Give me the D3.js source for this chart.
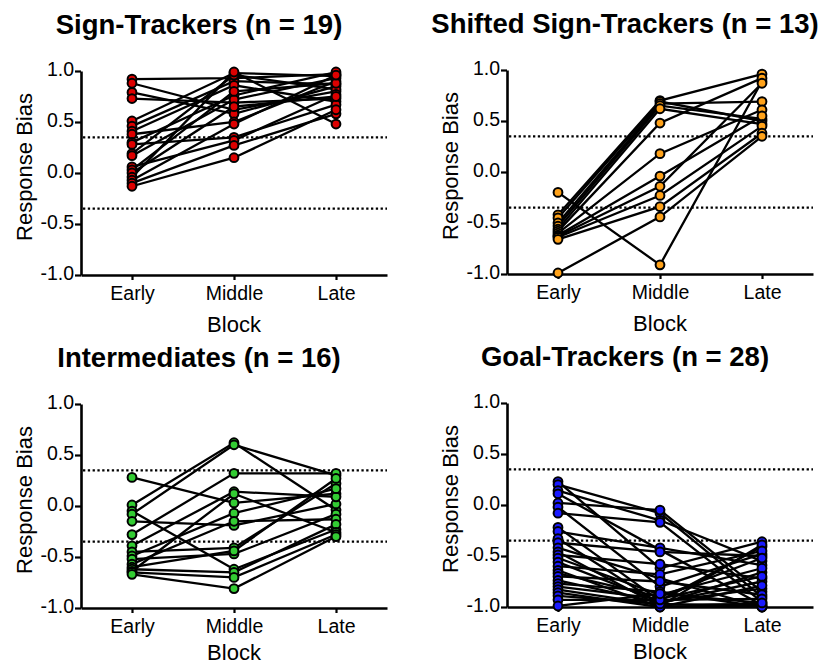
<!DOCTYPE html>
<html>
<head>
<meta charset="utf-8">
<script src="https://cdn.jsdelivr.net/npm/d3@7"></script>
<style>
  body { margin: 0; background: #fff; }
  svg text { font-family: "Liberation Sans", Arial, sans-serif; fill: #000; }
</style>
</head>
<body>
<svg id="chart" width="831" height="666"></svg>
<script>
// categories and ticks
const blocks = ["Early", "Middle", "Late"];
const yTicks = [-1.0, -0.5, 0.0, 0.5, 1.0];
const cutoffs = [-0.35, 0.35];

// Sign-Trackers (n = 19), one entry per subject
const stEarly  = [0.92, 0.88, 0.79, 0.73, 0.51, 0.46, 0.41, 0.38, 0.30, 0.28, 0.19, 0.17, 0.06, 0.03, 0.00, -0.04, -0.07, -0.10, -0.13];
const stMiddle = [0.93, 0.62, 0.58, 0.69, 0.98, 0.90, 0.86, 0.50, 0.76, 0.35, 0.96, 0.72, 0.32, 0.80, 0.65, 0.99, 0.48, 0.27, 0.15];
const stLate   = [0.97, 0.80, 0.85, 0.73, 0.95, 0.87, 0.70, 0.90, 0.99, 0.67, 0.82, 0.93, 0.77, 0.88, 0.75, 0.48, 0.96, 0.58, 0.62];

// Shifted Sign-Trackers (n = 13)
const sstEarly  = [-0.20, -0.42, -0.45, -0.50, -0.53, -0.56, -0.58, -0.60, -0.62, -0.63, -0.64, -0.66, -0.99];
const sstMiddle = [-0.91, 0.70, 0.69, 0.67, 0.65, 0.62, 0.48, 0.18, -0.04, -0.14, -0.23, -0.34, -0.44];
const sstLate   = [0.89, 0.96, 0.50, 0.69, 0.52, 0.47, 0.92, 0.61, 0.55, 0.87, 0.45, 0.38, 0.35];

// Intermediates (n = 16)
const intEarly  = [0.28, 0.01, -0.05, -0.08, -0.15, -0.28, -0.39, -0.45, -0.49, -0.52, -0.57, -0.60, -0.62, -0.64, -0.65, -0.67];
const intMiddle = [0.03, 0.62, -0.62, 0.60, -0.19, 0.32, 0.14, -0.41, -0.07, -0.47, -0.15, -0.44, -0.65, 0.12, -0.70, -0.81];
const intLate   = [0.12, -0.04, -0.23, 0.30, 0.02, 0.32, 0.09, 0.22, 0.17, -0.08, -0.13, 0.27, -0.18, -0.26, -0.28, -0.30];

// Goal-Trackers (n = 28)
const gtEarly  = [0.23, 0.20, 0.14, 0.11, 0.02, -0.02, -0.08, -0.22, -0.26, -0.33, -0.37, -0.42, -0.46, -0.49,
                  -0.52, -0.56, -0.60, -0.64, -0.67, -0.70, -0.74, -0.77, -0.80, -0.83, -0.86, -0.89, -0.93, -0.99];
const gtMiddle = [-0.62, -0.08, -0.15, -0.44, -0.05, -0.80, -0.17, -0.94, -0.42, -0.97, -0.46, -0.72, -0.99, -0.58,
                  -0.88, -0.95, -0.68, -1.00, -0.90, -0.75, -0.96, -0.85, -0.92, -0.98, -1.00, -0.97, -0.93, -0.87];
const gtLate   = [-0.36, -0.90, -0.55, -0.98, -0.85, -0.48, -0.95, -0.41, -0.59, -0.66, -0.50, -1.00, -0.39, -0.72,
                  -0.62, -0.82, -0.45, -0.99, -0.52, -0.88, -0.75, -1.00, -0.70, -0.97, -0.79, -1.00, -0.92, -0.96];

const panels = [
  { title: "Sign-Trackers (n = 19)",         color: "#dd0000", left: 81,  top: 71,  blockDy: 57, cols: [stEarly, stMiddle, stLate] },
  { title: "Shifted Sign-Trackers (n = 13)", color: "#ffa21a", left: 507, top: 70,  blockDy: 57, cols: [sstEarly, sstMiddle, sstLate] },
  { title: "Intermediates (n = 16)",         color: "#33cc33", left: 81,  top: 404, blockDy: 52, cols: [intEarly, intMiddle, intLate] },
  { title: "Goal-Trackers (n = 28)",         color: "#1a1aff", left: 507, top: 403, blockDy: 52, cols: [gtEarly, gtMiddle, gtLate] }
];

const plotW = 306, plotH = 204;
const svg = d3.select("#chart");

const x = d3.scalePoint().domain(blocks).range([0, plotW]).padding(0.5);
const y = d3.scaleLinear().domain([-1, 1]).range([plotH, 0]);

panels.forEach(p => {
  const g = svg.append("g").attr("transform", `translate(${p.left},${p.top})`);

  // seuils en pointillés
  g.selectAll(".cut").data(cutoffs).enter().append("line")
    .attr("x1", 2).attr("x2", plotW)
    .attr("y1", d => y(d)).attr("y2", d => y(d))
    .attr("stroke", "#000").attr("stroke-width", 2.3)
    .attr("stroke-dasharray", "2.3,2.5");

  // un sujet = une ligne Early-Middle-Late
  const subjects = d3.range(p.cols[0].length).map(i => p.cols.map(c => c[i]));
  const line = d3.line().x((d, i) => x(blocks[i])).y(d => y(d));

  g.append("g").selectAll("path").data(subjects).enter().append("path")
    .attr("d", line)
    .attr("fill", "none").attr("stroke", "#000").attr("stroke-width", 2.3);

  // axes
  const yAxis = g.append("g")
    .call(d3.axisLeft(y).tickValues(yTicks).tickFormat(d => d.toFixed(1)).tickSize(6).tickSizeOuter(0).tickPadding(1));
  const xAxis = g.append("g").attr("transform", `translate(0,${plotH})`)
    .call(d3.axisBottom(x).tickSize(5).tickSizeOuter(0).tickPadding(6));
  [yAxis, xAxis].forEach(a => {
    a.select(".domain").attr("stroke-width", 2.6);
    a.selectAll(".tick line").attr("stroke-width", 2.2);
    a.selectAll("text").style("font-size", "19.5px").attr("fill", "#000");
  });
  yAxis.selectAll("text").attr("dy", "0.25em");

  // points
  blocks.forEach((b, j) => {
    g.append("g").selectAll("circle").data(p.cols[j]).enter().append("circle")
      .attr("cx", x(b)).attr("cy", d => y(d)).attr("r", 4.4)
      .attr("fill", p.color).attr("stroke", "#000").attr("stroke-width", 2);
  });

  // textes
  g.append("text").attr("x", 118).attr("y", -37)
    .attr("text-anchor", "middle").style("font-size", "27.5px").style("font-weight", "bold")
    .text(p.title);
  g.append("text").attr("transform", `translate(-49,${plotH / 2 - 6}) rotate(-90)`)
    .attr("text-anchor", "middle").style("font-size", "22px")
    .text("Response Bias");
  g.append("text").attr("x", plotW / 2).attr("y", plotH + p.blockDy)
    .attr("text-anchor", "middle").style("font-size", "22px")
    .text("Block");
});
</script>
</body>
</html>
